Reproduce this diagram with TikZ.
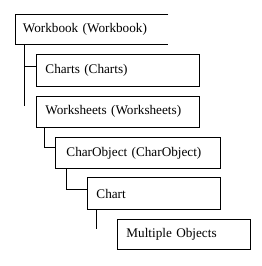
\documentclass[tikz,border=0pt]{standalone}
\usepackage{fontspec}
\setmainfont{Liberation Serif}
\begin{document}
\begin{tikzpicture}[x=1pt,y=-1pt,
  every node/.style={font=\fontsize{13.2}{15}\selectfont, inner ysep=0pt, anchor=north west, align=left},
  box/.style={draw, line width=0.9pt},
  conn/.style={line width=0.9pt}]
\useasboundingbox (0,0) rectangle (262,266);
% Workbook (open on the right)
\node[inner xsep=7.4pt, text width=152.7pt-14.8pt, minimum height=29.7pt] (wb) at (15.3,14.3) {Workbook (Workbook)};
\draw[conn] (wb.north east) -- (wb.north west) -- (wb.south west) -- (wb.south east);
\node[box, inner xsep=9pt, text width=163.3pt-18pt, minimum height=31.7pt] (charts) at (36,54.3) {Charts (Charts)};
\node[box, inner xsep=9pt, text width=163.3pt-18pt, minimum height=31pt] (ws) at (36,95.7) {Worksheets (Worksheets)};
\node[box, inner xsep=11pt, text width=165pt-22pt, minimum height=30.7pt] (co) at (55,137.3) {CharObject (CharObject)};
\node[box, inner xsep=8.7pt, text width=132.7pt-17.4pt, minimum height=31.7pt] (chart) at (87.3,177.3) {Chart};
\node[box, inner xsep=8.7pt, text width=132.7pt-17.4pt, minimum height=30pt] (mo) at (117.3,219) {Multiple Objects};
% connectors
\draw[conn] ([xshift=9pt]wb.south west) -- ++(0,62);
\draw[conn] ([xshift=9pt]wb.south west) |- ([yshift=4pt]charts.west);
\draw[conn] ([xshift=8.3pt]ws.south west) |- ([yshift=5.3pt]co.west);
\draw[conn] ([xshift=11.7pt]co.south west) |- ([yshift=4pt]chart.west);
\draw[conn] ([xshift=9.4pt]chart.south west) -- ++(0,19);
\end{tikzpicture}
\end{document}
